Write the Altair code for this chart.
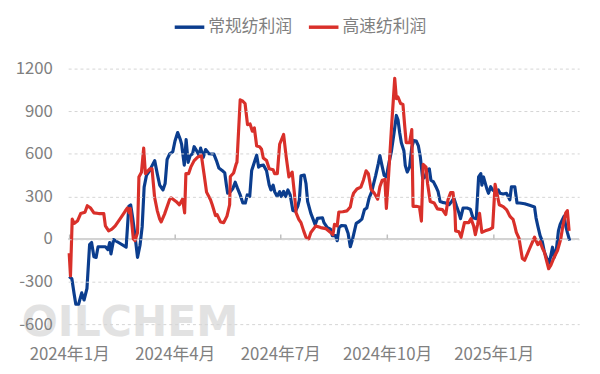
import altair as alt
import pandas as pd

# ---- data (days since 2024-01-01) ----
series_names = ["常规纺利润", "高速纺利润"]
series_colors = ["#0b3d8e", "#d9302a"]

blue_days = [0, 2.3, 4.3, 5.7, 8.1, 10.8, 12.8, 15.3, 17.6, 19.3,
             21.3, 23.2, 24.9, 31.2, 33.4, 34.9, 36.0, 38.3, 42.5, 49.1,
             51.4, 53.0, 54.7, 56.7, 58.9, 61.0, 62.9, 64.6, 66.6, 69.5,
             70.8, 73.7, 75.9, 78.0, 80.8, 82.7, 84.4, 86.5, 89.3, 91.2,
             93.5, 95.8, 96.9, 99.2, 100.8, 102.5, 104.3, 106.3, 107.7, 109.9,
             112.0, 113.3, 115.6, 117.6, 120.5, 124.7, 126.9, 129.0, 131.8, 134.1,
             135.5, 136.6, 138.9, 141.1, 143.1, 145.1, 147.4, 149.7, 151.8, 153.5,
             155.6, 157.3, 160.1, 161.6, 163.3, 165.0, 167.5, 170.1, 172.4, 173.9,
             175.8, 177.1, 179.2, 181.4, 182.8, 184.8, 186.5, 188.5, 190.5, 192.8,
             195.0, 197.0, 198.4, 199.8, 202.6, 204.1, 205.5, 208.3, 210.3, 212.0,
             214.0, 218.3, 219.6, 222.5, 225.3, 226.8, 229.6, 231.0, 232.6, 234.7,
             238.1, 240.4, 242.3, 244.3, 247.4, 249.4, 252.3, 254.5, 256.5, 258.5,
             260.8, 262.1, 264.2, 266.4, 267.8, 269.3, 271.5, 273.5, 274.9, 277.8,
             280.0, 282.0, 283.4, 284.9, 286.3, 288.5, 289.7, 291.4, 293.4, 295.3,
             297.0, 299.1, 301.0, 302.7, 304.7, 306.7, 308.4, 310.4, 311.8, 314.0,
             316.1, 318.0, 319.7, 321.7, 324.6, 327.4, 329.7, 331.6, 333.9, 335.9,
             337.3, 339.5, 342.9, 345.8, 348.0, 350.9, 352.9, 354.8, 355.7, 357.1,
             359.9, 361.4, 363.3, 365.0, 367.1, 369.9, 371.3, 374.1, 376.9, 378.4,
             379.8, 381.2, 384.1, 386.0, 388.3, 392.6, 396.8, 401.1, 402.4, 403.9,
             405.9, 407.6, 409.6, 411.8, 413.8, 415.2, 416.6, 418.1, 420.0, 421.7,
             423.2, 425.2, 426.6, 428.0, 429.4, 431.4]
blue_vals = [-264, -280, -390, -460, -460, -380, -430, -350, -40, -25,
             -125, -130, -55, -55, -75, -25, -105, -5, -25, -58,
             230, 240, 150, 25, -130, -46, 85, 365, 448, 483,
             506, 552, 460, 380, 345, 391, 560, 598, 615, 690,
             750, 700, 667, 520, 700, 540, 587, 600, 650, 621,
             587, 640, 575, 630, 600, 598, 552, 500, 483, 465,
             380, 322, 333, 356, 400, 356, 310, 253, 253, 310,
             299, 483, 552, 590, 506, 517, 520, 480, 380, 345,
             379, 333, 300, 333, 299, 335, 299, 345, 310, 200,
             195, 230, 276, 445, 450, 391, 265, 180, 138, 100,
             145, 149, 115, 80, 69, 23, 23, -12, 80, 95,
             92, 40, -55, 0, 110, 120, 140, 207, 218, 287,
             333, 379, 448, 529, 587, 529, 448, 437, 506, 621,
             747, 870, 840, 747, 678, 621, 517, 471, 506, 644,
             694, 690, 655, 575, 425, 437, 483, 494, 414, 402,
             368, 333, 264, 258, 253, 241, 264, 287, 230, 184,
             143, 218, 218, 210, 149, 143, 437, 460, 379, 437,
             356, 322, 368, 345, 333, 345, 322, 317, 322, 299,
             276, 368, 368, 253, 253, 248, 237, 225, 149, 92,
             23, -12, -92, -140, -170, -115, -58, -130, -69, 57,
             103, 138, 161, 92, 46, -12]

red_days = [0, 1.1, 2.6, 4.3, 7.1, 9.9, 13.6, 15.6, 18.5, 21.3,
            25.5, 29.8, 31.2, 34.0, 36.8, 39.7, 44.0, 48.2, 50.2, 51.6,
            52.7, 55.3, 56.7, 58.9, 60.1, 62.3, 64.2, 65.7, 69.5, 71.4,
            73.6, 75.9, 78.0, 79.3, 82.2, 86.5, 87.8, 92.1, 95.0, 97.8,
            99.5, 100.6, 102.9, 104.8, 107.7, 110.5, 113.9, 116.2, 118.4, 121.8,
            123.3, 126.1, 127.5, 130.4, 133.2, 136.0, 138.3, 138.9, 141.7, 144.0,
            144.6, 147.4, 149.7, 151.6, 153.7, 155.9, 157.9, 159.6, 161.6, 164.1,
            165.8, 167.3, 170.1, 172.4, 175.8, 177.1, 179.4, 181.4, 184.8, 187.1,
            189.4, 192.2, 194.1, 195.6, 197.9, 199.8, 202.1, 204.1, 206.4, 208.3,
            212.6, 216.8, 221.1, 225.3, 227.3, 228.7, 231.0, 232.4, 235.8, 239.5,
            242.3, 243.8, 245.1, 248.0, 251.4, 253.6, 255.9, 257.9, 260.2, 263.0,
            265.9, 267.8, 269.8, 272.1, 273.4, 275.1, 277.8, 280.6, 282.0, 283.4,
            285.7, 287.7, 289.1, 290.5, 293.4, 295.3, 296.4, 299.1, 301.9, 303.6,
            305.1, 307.6, 308.9, 311.2, 314.6, 317.4, 321.7, 324.6, 326.5, 328.8,
            330.8, 332.5, 333.1, 335.9, 337.8, 340.7, 344.4, 346.3, 348.6, 350.1,
            352.0, 353.7, 355.7, 358.6, 362.8, 365.0, 367.1, 368.4, 370.7, 374.1,
            376.9, 378.4, 379.8, 381.2, 382.6, 384.1, 385.4, 387.7, 390.6, 392.6,
            396.8, 401.1, 403.9, 405.9, 408.1, 409.6, 411.0, 413.3, 415.2, 418.1,
            420.9, 422.9, 423.7, 425.7, 428.0, 429.4, 430.9]
red_vals = [-100, -260, 140, 110, 126, 179, 188, 234, 218, 184,
            179, 179, 92, 57, 69, 92, 143, 195, 218, 184,
            215, 0, -12, 46, 437, 470, 640, 460, 494, 494,
            295, 200, 140, 120, 175, 276, 290, 264, 241, 282,
            184, 460, 460, 506, 552, 575, 590, 460, 330, 276,
            241, 165, 172, 120, 115, 161, 241, 440, 465, 530,
            540, 980, 970, 954, 805, 810, 759, 782, 655, 650,
            632, 570, 552, 494, 487, 460, 460, 667, 736, 575,
            437, 471, 322, 184, 138, 115, 57, 12, 0, 46,
            92, 80, 73, 46, 30, 103, 92, 190, 192, 198,
            225, 287, 322, 352, 365, 414, 480, 460, 350, 322,
            280, 368, 414, 419, 215, 420, 782, 1131, 989, 1000,
            954, 947, 805, 678, 678, 770, 230, 230, 225, 126,
            525, 506, 391, 264, 253, 212, 207, 172, 276, 327,
            327, 195, 57, 51, 12, 115, 115, 143, 92, 30,
            100, 180, 46, 57, 69, 80, 385, 333, 241, 228,
            207, 184, 161, 149, 138, 92, 46, 5, -138, -150,
            -69, 12, -40, -20, -69, -92, -138, -210, -184, -127,
            -81, -23, 0, 100, 184, 200, 57]

x_tick_dates = [(2024, 1, 1), (2024, 4, 1), (2024, 7, 1), (2024, 10, 1), (2025, 1, 1)]
y_ticks = [-600, -300, 0, 300, 600, 900, 1200]
y_domain = [-600, 1200]
baseline_value = [0]
watermark_text = "OILCHEM"

FONT = "Noto Sans CJK SC"
GREY = "#808080"

# ---- build tables ----
start = pd.Timestamp("2024-01-01")


def make_df(days, vals, name):
    return pd.DataFrame({
        "date": start + pd.to_timedelta(days, unit="D"),
        "value": vals,
        "series": name,
    })


blue_df = make_df(blue_days, blue_vals, series_names[0])
red_df = make_df(red_days, red_vals, series_names[1])

tick_vals = [alt.DateTime(year=y, month=m, date=d) for (y, m, d) in x_tick_dates]
x_domain = [alt.DateTime(year=2023, month=12, date=31, hours=3),
            alt.DateTime(year=2025, month=3, date=15, hours=14)]

W, H = 518, 259
zero_offset = -H * y_domain[1] / (y_domain[1] - y_domain[0])

x_scale = alt.Scale(domain=x_domain)
y_scale = alt.Scale(domain=y_domain, nice=False, zero=False)

y_axis = alt.Axis(
    values=y_ticks, title=None, domain=False, ticks=False, labelPadding=16,
    labelExpr="'' + datum.value",
    labelFontSize=17, labelColor=GREY, labelFont=FONT,
    gridDash=[3, 3], gridColor="#d4d4d4", gridWidth=1, zindex=1)
y_enc = alt.Y("value:Q", scale=y_scale, axis=y_axis)

legend = alt.Legend(
    title=None, orient="none", legendX=106, legendY=-59, direction="horizontal",
    symbolType="stroke", symbolSize=900, symbolStrokeWidth=3.5,
    labelFontSize=17, labelColor=GREY, labelFont=FONT, labelOffset=2,
    columnPadding=10, padding=0)
color_enc = alt.Color("series:N", scale=alt.Scale(domain=series_names, range=series_colors),
                      legend=legend)

# x axis with the month labels at the bottom
x_bottom = alt.X("date:T", scale=x_scale, axis=alt.Axis(
    orient="bottom", values=tick_vals, format="%Y年%-m月", title=None,
    labelFontSize=17, labelColor=GREY, labelFont=FONT, labelPadding=23,
    ticks=False, domain=False, grid=False, labelFlush=False, labelOverlap=False,
    zindex=1))

# small tick marks sitting on the zero line
x_ticks_on_zero = alt.X("date:T", scale=x_scale, axis=alt.Axis(
    orient="top", offset=zero_offset, values=tick_vals, labels=False, title=None,
    ticks=True, tickSize=5, tickColor="#bfbfbf", tickWidth=1.5,
    domain=False, grid=False))

watermark = alt.Chart(pd.DataFrame({"t": [watermark_text]})).mark_text(
    font="DejaVu Sans", fontWeight="bold", fontSize=43, align="left",
    baseline="alphabetic", color="#e2e2e2"
).encode(text="t:N", x=alt.value(-47), y=alt.value(271))

zero_rule = alt.Chart(pd.DataFrame({"value": baseline_value})).mark_rule(
    color="#c4c4c4", strokeWidth=1.5
).encode(y=y_enc)

blue_line = alt.Chart(blue_df).mark_line(strokeWidth=3.2, strokeJoin="round").encode(
    x=x_ticks_on_zero, y=y_enc, color=color_enc)

red_line = alt.Chart(red_df).mark_line(strokeWidth=3.2, strokeJoin="round").encode(
    x=x_bottom, y=y_enc, color=color_enc)

chart = alt.layer(watermark, zero_rule, blue_line, red_line).resolve_axis(
    x="independent"
).properties(
    width=W, height=H,
    autosize=alt.AutoSizeParams(type="none"),
    padding={"left": 61, "top": 59, "right": 13, "bottom": 40},
).configure(font=FONT).configure_view(stroke=None)

chart.save("out.html", embed_options={"renderer": "svg", "actions": False})
